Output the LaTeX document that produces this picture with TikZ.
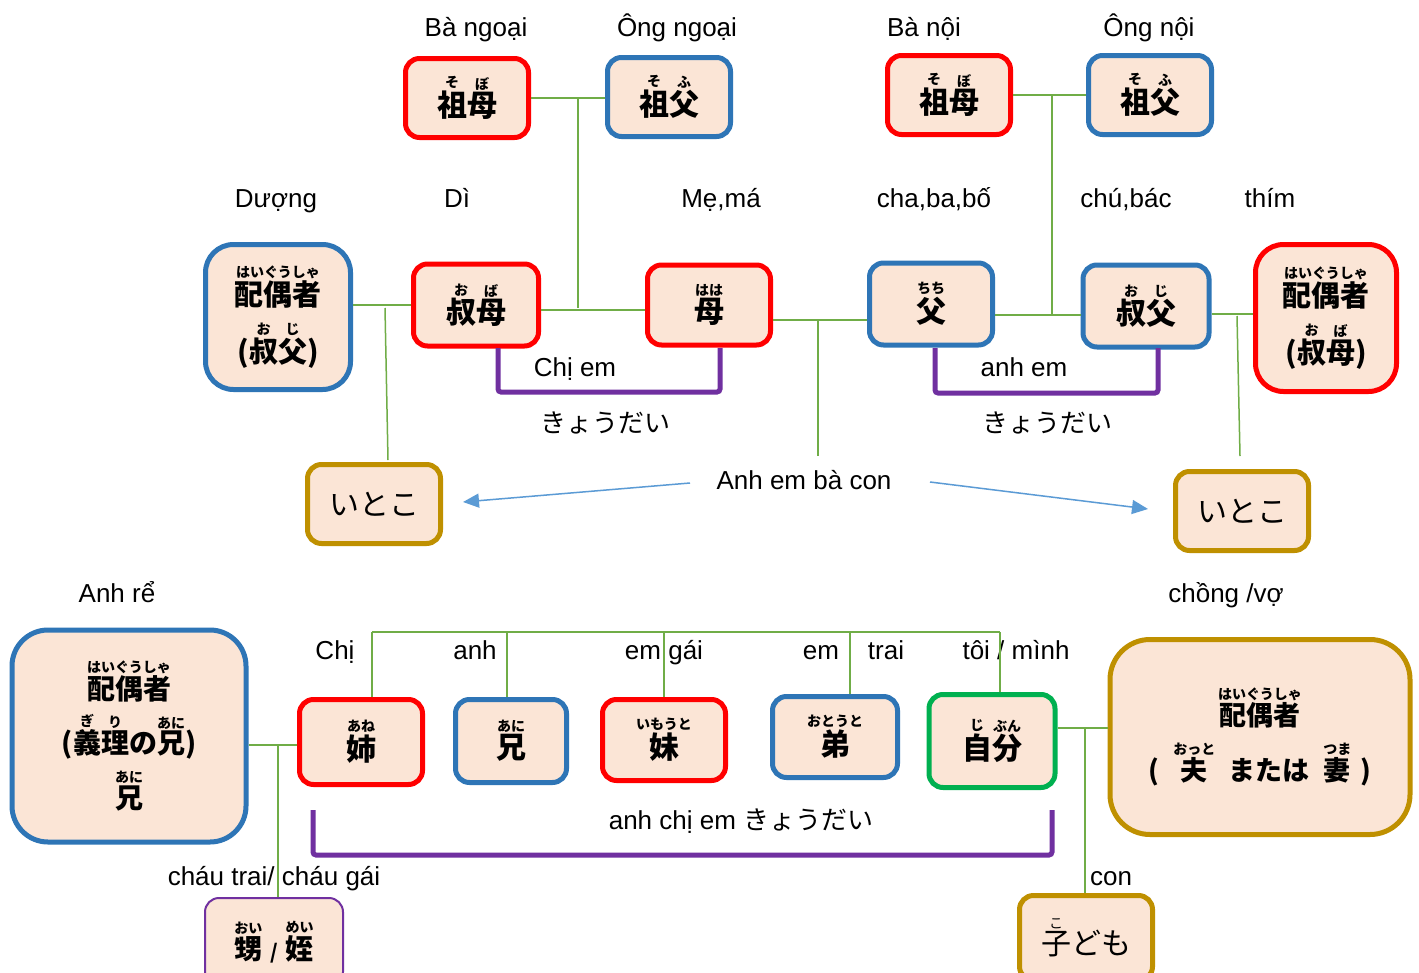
\documentclass[tikz,border=0pt]{standalone}
\usepackage{fontspec}
\setmainfont{Liberation Sans}
\newfontfamily\jp{Noto Sans CJK JP}
\usetikzlibrary{arrows.meta}
\definecolor{peach}{HTML}{FBE5D6}
\definecolor{bred}{HTML}{FF0000}
\definecolor{bblue}{HTML}{2E75B6}
\definecolor{bgold}{HTML}{BF9000}
\definecolor{bgreen}{HTML}{00B050}
\definecolor{bpurple}{HTML}{7030A0}
\definecolor{cgreen}{HTML}{70AD47}
\definecolor{arrowblue}{HTML}{5B9BD5}
\newcommand\rbsize{\fontsize{14}{14}\selectfont}
\newcommand\rbgap{2pt}
\newdimen\rbw
\newbox\rbA
\newbox\rbB
\newcommand\rb[2]{\leavevmode\begingroup
  \setbox\rbB=\hbox{\rbsize #2}%
  \setbox\rbA=\hbox{#1}%
  \rbw=\wd\rbA\relax
  \ifdim\wd\rbB>\rbw \rbw=\wd\rbB\relax\fi
  \vbox{\offinterlineskip\hbox to\rbw{\hss\box\rbB\hss}\kern\rbgap\hbox to\rbw{\hss\box\rbA\hss}}%
  \endgroup}
\begin{document}
\begin{tikzpicture}[x=1pt,y=-1pt,
  box/.style={draw, fill=peach, line width=5pt, rounded corners=14pt, inner sep=0pt, align=center,
    font=\jp\bfseries\fontsize{30}{34}\selectfont},
  rbox/.style={box, draw=bred},
  bbox/.style={box, draw=bblue},
  gobox/.style={box, draw=bgold},
  gbox/.style={box, draw=bgreen},
  pbox/.style={box, draw=bpurple, line width=2pt},
  lbl/.style={font=\fontsize{26}{30}\selectfont, inner sep=0pt, text height=18.6pt, text depth=0pt},
  jlbl/.style={font=\jp\fontsize{26}{30}\selectfont, inner sep=0pt},
  conn/.style={cgreen, line width=1.5pt},
  brk/.style={bpurple, line width=5pt, rounded corners=3pt},
  arr/.style={arrowblue, line width=1.5pt, -{Triangle[length=16pt,width=14pt]}}
]
\useasboundingbox (0,0) rectangle (1419,972);
\fill[white] (0,0) rectangle (1419,972);

% ---------- nodes: grandparents
\node[rbox, minimum width=123pt, minimum height=79pt] (gmL) at (467,98) {\rb{祖}{そ}\rb{母}{ぼ}};
\node[bbox, minimum width=123pt, minimum height=79pt] (gfL) at (669,97) {\rb{祖}{そ}\rb{父}{ふ}};
\node[rbox, minimum width=123pt, minimum height=79pt] (gmR) at (949,95) {\rb{祖}{そ}\rb{母}{ぼ}};
\node[bbox, minimum width=123pt, minimum height=79pt] (gfR) at (1150,95) {\rb{祖}{そ}\rb{父}{ふ}};

% ---------- parents generation
\node[bbox, minimum width=145pt, minimum height=145pt, rounded corners=28pt, font=\jp\bfseries\fontsize{29}{34}\selectfont] (spL) at (278,317)
  {\rb{配偶者}{はいぐうしゃ}\\[14pt](\rb{叔}{お}\rb{父}{じ})};
\node[rbox, minimum width=125pt, minimum height=82pt] (aunt) at (476,305) {\rb{叔}{お}\rb{母}{ば}};
\node[rbox, minimum width=123pt, minimum height=80pt] (mom) at (709,305) {\rb{母}{はは}};
\node[bbox, minimum width=123pt, minimum height=82pt] (dad) at (931,304) {\rb{父}{ちち}};
\node[bbox, minimum width=126pt, minimum height=82pt] (uncle) at (1146,306) {\rb{叔}{お}\rb{父}{じ}};
\node[rbox, minimum width=141pt, minimum height=147pt, rounded corners=28pt, font=\jp\bfseries\fontsize{29}{34}\selectfont] (spR) at (1326,318)
  {\rb{配偶者}{はいぐうしゃ}\\[14pt](\rb{叔}{お}\rb{母}{ば})};

% ---------- cousins
\node[gobox, minimum width=133pt, minimum height=79pt, font=\jp\fontsize{30}{34}\selectfont] (cousL) at (374,504) {いとこ};
\node[gobox, minimum width=133pt, minimum height=79pt, font=\jp\fontsize{30}{34}\selectfont] (cousR) at (1242,511) {いとこ};

% ---------- own generation
\node[bbox, minimum width=234pt, minimum height=212pt, rounded corners=36pt, font=\jp\bfseries\fontsize{28}{32}\selectfont] (spBL) at (129,736)
  {\rb{配偶者}{はいぐうしゃ}\\[11pt](\rb{義}{ぎ}\rb{理}{り}の\rb{兄}{あに})\\[11pt]\rb{兄}{あに}};
\node[rbox, minimum width=123pt, minimum height=85pt] (ane) at (361,742) {\rb{姉}{あね}};
\node[bbox, minimum width=111pt, minimum height=83pt] (ani) at (511,741) {\rb{兄}{あに}};
\node[rbox, minimum width=123pt, minimum height=81pt] (imo) at (664,740) {\rb{妹}{いもうと}};
\node[bbox, minimum width=125pt, minimum height=81pt] (oto) at (835,737) {\rb{弟}{おとうと}};
\node[gbox, minimum width=126pt, minimum height=93pt] (me) at (992,741) {\rb{自}{じ}\rb{分}{ぶん}};
\node[gobox, minimum width=300pt, minimum height=195pt, rounded corners=40pt, font=\jp\bfseries\fontsize{27}{32}\selectfont] (spBR) at (1260,737)
  {\rb{配偶者}{はいぐうしゃ}\\[14pt](\enspace\rb{夫}{おっと}\enspace または\enspace\rb{妻}{つま}\,\,)};
\node[pbox, minimum width=138pt, minimum height=88pt, font=\jp\bfseries\fontsize{28}{32}\selectfont] (oi) at (274,942)
  {\rb{甥}{おい}\;{\fontsize{20}{20}\selectfont /}\;\rb{姪}{めい}};
\node[gobox, minimum width=133pt, minimum height=85pt, font=\jp\fontsize{30}{34}\selectfont] (kodomo) at (1086,938) {\rb{子}{こ}ども};

% ---------- labels
\node[lbl] (lBn) at (476,27) {Bà ngoại};
\node[lbl] (lOn) at (677,27) {Ông ngoại};
\node[lbl] (lBni) at (924,27) {Bà nội};
\node[lbl] (lOni) at (1149,27) {Ông nội};
\node[lbl] (lDuong) at (276,198) {Dượng};
\node[lbl] (lDi) at (457,198) {Dì};
\node[lbl] (lMe) at (721,198) {Mẹ,má};
\node[lbl] (lCha) at (934,198) {cha,ba,bố};
\node[lbl] (lChu) at (1126,198) {chú,bác};
\node[lbl] (lThim) at (1270,198) {thím};
\node[lbl] (lChiem) at (575,367) {Chị em};
\node[lbl] (lAnhem) at (1024,367) {anh em};
\node[jlbl] (lKy1) at (605,423) {きょうだい};
\node[jlbl] (lKy2) at (1047,423) {きょうだい};
\node[lbl] (abc) at (804,480) {Anh em bà con};
\node[lbl] (lAnhre) at (117,593) {Anh rể};
\node[lbl] (lChong) at (1226,593) {chồng /vợ};
\node[lbl] (lChi) at (335,650) {Chị};
\node[lbl] (lAnh) at (475,650) {anh};
\node[lbl] (lEmgai) at (664,650) {em gái};
\node[lbl] (lEm) at (821,650) {em};
\node[lbl] (lTrai) at (886,650) {trai};
\node[lbl] (lToi) at (1016,650) {tôi / mình};
\node[lbl] (lAce) at (741,820) {anh chị em {\jp きょうだい}};
\node[lbl] (lChau) at (274,876) {cháu trai/ cháu gái};
\node[lbl] (lCon) at (1111,876) {con};

% ---------- connectors
\draw[conn] (gmL.east) -- (gmL.east -| gfL.west);
\coordinate (jL1) at (578,98);
\coordinate (jL2) at (578,308);
\draw[conn] (jL1) -- (jL2);
\draw[conn] ([yshift=-5pt]aunt.east) -- ([yshift=-5pt]aunt.east -| mom.west);
\draw[conn] (spL.east |- aunt.west) -- (aunt.west);
\coordinate (jS1) at (385,308);
\coordinate (cLt) at (388,460);
\draw[conn] (jS1) -- (cLt);
\draw[conn] ([yshift=-15pt]mom.east) -- ([yshift=-15pt]mom.east -| dad.west);
\coordinate (jM1) at (818,320);
\coordinate (jM2) at (818,456);
\draw[conn] (jM1) -- (jM2);
\draw[conn] (gmR.east) -- (gmR.east -| gfR.west);
\coordinate (jR1) at (1052,95);
\coordinate (jR2) at (1052,314);
\draw[conn] (jR1) -- (jR2);
\draw[conn] ([yshift=-11pt]dad.east) -- ([yshift=-11pt]dad.east -| uncle.west);
\draw[conn] ([yshift=-8pt]uncle.east) -- ([yshift=-8pt]uncle.east -| spR.west);
\coordinate (jT1) at (1237,316);
\coordinate (cRt) at (1240,456);
\draw[conn] (jT1) -- (cRt);

% arrows
\coordinate (aL0) at (690,483);
\coordinate (aL1) at (463,502);
\coordinate (aR0) at (930,482);
\coordinate (aR1) at (1148,509);
\draw[arr] (aL0) -- (aL1);
\draw[arr] (aR0) -- (aR1);

% siblings
\coordinate (s1) at (372,632);
\coordinate (s2) at (507,632);
\coordinate (s3) at (664,632);
\coordinate (s4) at (850,632);
\coordinate (s5) at (1000,632);
\draw[conn] (s1) -- (s5);
\draw[conn] (s1) -- (s1 |- ane.north);
\draw[conn] (s2) -- (s2 |- ani.north);
\draw[conn] (s3) -- (s3 |- imo.north);
\draw[conn] (s4) -- (s4 |- oto.north);
\draw[conn] (s5) -- (s5 |- me.north);
\draw[conn] ([yshift=-3pt]ane.west) -- ([yshift=-3pt]ane.west -| spBL.east);
\coordinate (jB1) at (278,745);
\draw[conn] (jB1) -- (jB1 |- oi.north);
\draw[conn] ([yshift=13pt]me.east) -- ([yshift=13pt]me.east -| spBR.west);
\coordinate (jC1) at (1085,728);
\draw[conn] (jC1) -- (jC1 |- kodomo.north);

% brackets
\draw[brk] (498,348) -- (498,392) -- (720,392) -- (720,348);
\draw[brk] (935,348) -- (935,393) -- (1158,393) -- (1158,348);
\draw[brk] (313,810) -- (313,855) -- (1052,855) -- (1052,810);
\end{tikzpicture}
\end{document}
